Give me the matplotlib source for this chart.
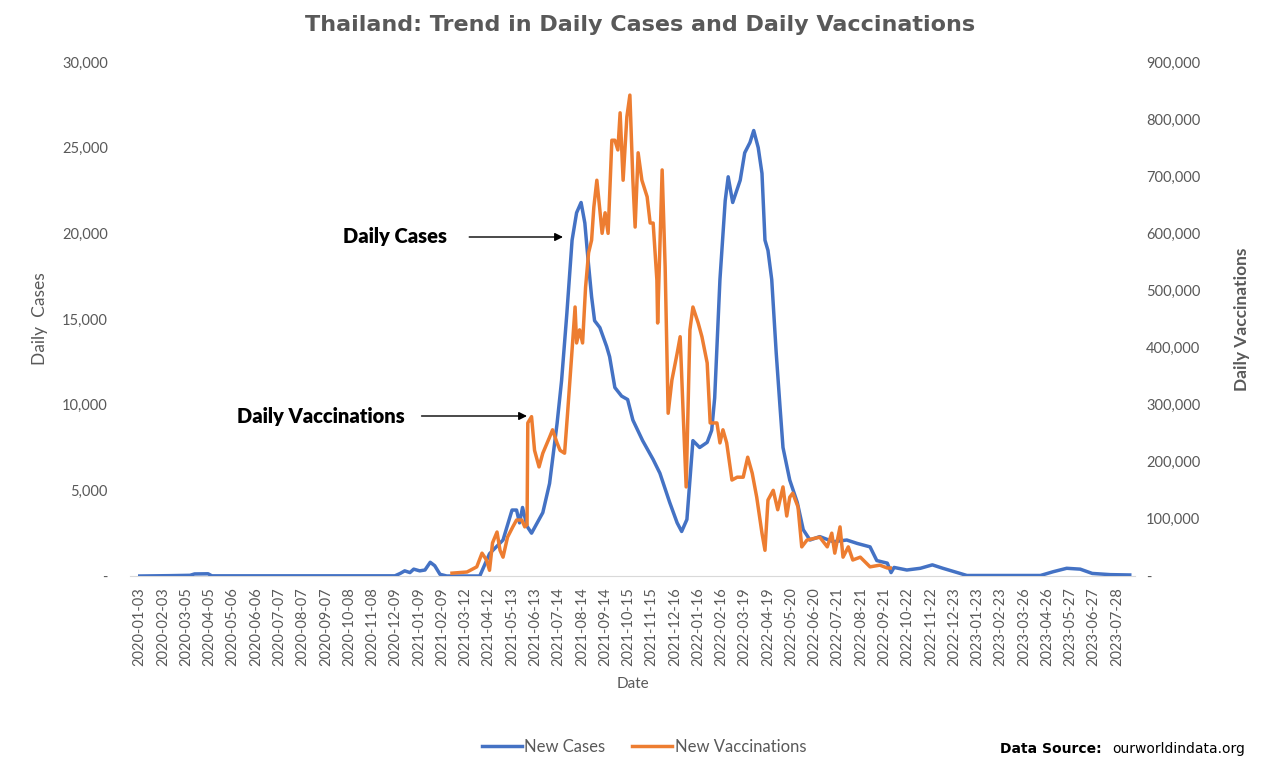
import pandas as pd
import matplotlib.pyplot as plt
from matplotlib.ticker import FuncFormatter, MultipleLocator

plt.rcParams['font.family'] = ['Lato', 'DejaVu Sans']

# ---------------- data ----------------
case_dates = ["2020-01-03", "2020-02-12", "2020-03-10", "2020-03-16", "2020-04-03", "2020-04-08",
              "2020-12-08", "2020-12-15", "2020-12-21", "2020-12-28", "2021-01-02", "2021-01-10",
              "2021-01-17", "2021-01-24", "2021-01-30", "2021-02-06", "2021-02-15", "2021-03-31",
              "2021-04-13", "2021-05-01", "2021-05-13", "2021-05-19", "2021-05-23", "2021-05-27",
              "2021-06-02", "2021-06-08", "2021-06-23", "2021-07-02", "2021-07-12", "2021-07-18",
              "2021-07-25", "2021-08-01", "2021-08-07", "2021-08-13", "2021-08-18", "2021-08-22",
              "2021-08-27", "2021-08-31", "2021-09-07", "2021-09-16", "2021-09-20", "2021-09-27",
              "2021-10-06", "2021-10-14", "2021-10-21", "2021-11-03", "2021-11-17", "2021-11-26",
              "2021-12-09", "2021-12-19", "2021-12-25", "2022-01-01", "2022-01-05", "2022-01-09",
              "2022-01-18", "2022-01-28", "2022-02-03", "2022-02-07", "2022-02-14", "2022-02-21",
              "2022-02-25", "2022-03-03", "2022-03-13", "2022-03-19", "2022-03-26", "2022-03-31",
              "2022-04-06", "2022-04-11", "2022-04-15", "2022-04-19", "2022-04-24", "2022-04-30",
              "2022-05-05", "2022-05-09", "2022-05-18", "2022-05-28", "2022-06-05", "2022-06-14",
              "2022-06-27", "2022-07-15", "2022-08-02", "2022-08-16", "2022-09-02", "2022-09-11",
              "2022-09-25", "2022-09-30", "2022-10-04", "2022-10-21", "2022-11-08", "2022-11-24",
              "2022-12-08", "2022-12-31", "2023-01-09", "2023-04-17", "2023-05-04", "2023-05-22",
              "2023-06-09", "2023-06-25", "2023-07-19", "2023-08-14"]
new_cases = [0, 20, 40, 120, 130, 10,
             10, 150, 300, 200, 400, 300,
             350, 800, 600, 100, 0, 0,
             1300, 2100, 3850, 3850, 3100, 4000,
             2900, 2500, 3700, 5400, 8900, 11400,
             15300, 19600, 21200, 21800, 20600, 18600,
             16300, 14900, 14500, 13400, 12800, 11000,
             10500, 10300, 9100, 7900, 6800, 6000,
             4300, 3100, 2600, 3300, 5600, 7900,
             7500, 7800, 8500, 10400, 17300, 21900,
             23300, 21800, 23100, 24700, 25300, 26000,
             25000, 23500, 19600, 19000, 17300, 13000,
             9900, 7500, 5600, 4300, 2700, 2100,
             2300, 2000, 2100, 1900, 1700, 900,
             750, 200, 500, 350, 450, 650,
             450, 150, 30, 30, 250, 450,
             400, 150, 80, 60]

vacc_dates = ["2021-02-22", "2021-03-14", "2021-03-27", "2021-04-03", "2021-04-09", "2021-04-13",
              "2021-04-17", "2021-04-23", "2021-04-27", "2021-05-01", "2021-05-07", "2021-05-14",
              "2021-05-19", "2021-05-26", "2021-05-30", "2021-06-02", "2021-06-03", "2021-06-08",
              "2021-06-12", "2021-06-18", "2021-06-23", "2021-07-02", "2021-07-06", "2021-07-12",
              "2021-07-16", "2021-07-22", "2021-07-26", "2021-08-01", "2021-08-05", "2021-08-07",
              "2021-08-11", "2021-08-15", "2021-08-19", "2021-08-23", "2021-08-27", "2021-08-30",
              "2021-09-03", "2021-09-07", "2021-09-10", "2021-09-14", "2021-09-18", "2021-09-23",
              "2021-09-27", "2021-10-01", "2021-10-04", "2021-10-08", "2021-10-13", "2021-10-17",
              "2021-10-21", "2021-10-24", "2021-10-28", "2021-11-02", "2021-11-09", "2021-11-13",
              "2021-11-17", "2021-11-22", "2021-11-23", "2021-11-29", "2021-12-03", "2021-12-07",
              "2021-12-12", "2021-12-19", "2021-12-23", "2021-12-27", "2021-12-31", "2022-01-05",
              "2022-01-09", "2022-01-16", "2022-01-21", "2022-01-28", "2022-02-01", "2022-02-10",
              "2022-02-14", "2022-02-18", "2022-02-23", "2022-03-02", "2022-03-09", "2022-03-17",
              "2022-03-23", "2022-03-29", "2022-04-04", "2022-04-11", "2022-04-15", "2022-04-19",
              "2022-04-26", "2022-05-02", "2022-05-09", "2022-05-14", "2022-05-18", "2022-05-22",
              "2022-05-29", "2022-06-03", "2022-06-10", "2022-06-27", "2022-07-07", "2022-07-13",
              "2022-07-17", "2022-07-24", "2022-07-28", "2022-08-04", "2022-08-10", "2022-08-20",
              "2022-09-02", "2022-09-15", "2022-09-25", "2022-09-29"]
new_vaccinations = [5000, 7000, 16000, 40000, 28000, 10000,
                    58000, 77000, 45000, 33000, 68000, 86000,
                    98000, 98000, 86000, 90000, 268000, 279000,
                    220000, 191000, 215000, 243000, 256000, 233000,
                    220000, 215000, 285000, 396000, 471000, 408000,
                    431000, 408000, 506000, 566000, 588000, 646000,
                    693000, 641000, 600000, 636000, 600000, 763000,
                    763000, 746000, 811000, 693000, 804000, 842000,
                    693000, 611000, 741000, 693000, 664000, 618000,
                    618000, 518000, 443000, 711000, 541000, 285000,
                    343000, 390000, 419000, 285000, 156000, 431000,
                    471000, 443000, 419000, 373000, 268000, 268000,
                    233000, 256000, 233000, 168000, 173000, 173000,
                    208000, 180000, 138000, 75000, 45000, 133000,
                    150000, 116000, 156000, 105000, 138000, 145000,
                    121000, 51000, 63000, 68000, 51000, 75000,
                    40000, 86000, 33000, 51000, 28000, 33000,
                    16000, 19000, 14000, 14000]

# category labels, every 31st day
tick_dates = pd.date_range("2020-01-03", "2023-07-28", freq="31D")

BLUE = '#4472C4'
ORANGE = '#ED7D31'
GREY = '#595959'

W, H = 1267, 771
fig = plt.figure(figsize=(W / 100, H / 100), dpi=100)
ax = fig.add_axes([130 / W, 1 - 576 / H, 1005 / W, 514 / H])
ax2 = ax.twinx()

cx = pd.to_datetime(case_dates)
vx = pd.to_datetime(vacc_dates)
l1, = ax.plot(cx, new_cases, color=BLUE, lw=2.5, label='New Cases', zorder=3)
l2, = ax2.plot(vx, new_vaccinations, color=ORANGE, lw=2.5, label='New Vaccinations', zorder=2)

start = pd.Timestamp("2020-01-03")
ax.set_xlim(start - pd.Timedelta(days=13), start + pd.Timedelta(days=1326))
ax.set_ylim(0, 30000)
ax2.set_ylim(0, 900000)
ax.yaxis.set_major_locator(MultipleLocator(5000))
ax2.yaxis.set_major_locator(MultipleLocator(100000))


def fmt(v, pos):
    return '-' if v == 0 else f'{v:,.0f}'


ax.yaxis.set_major_formatter(FuncFormatter(fmt))
ax2.yaxis.set_major_formatter(FuncFormatter(fmt))

ax.set_xticks(tick_dates)
ax.set_xticklabels([d.strftime('%Y-%m-%d') for d in tick_dates], rotation=90)

for a in (ax, ax2):
    for s in a.spines.values():
        s.set_visible(False)
    a.tick_params(length=0, colors=GREY, labelsize=10.5)
ax.spines['bottom'].set_visible(True)
ax.spines['bottom'].set_color('#D9D9D9')
ax.tick_params(axis='y', pad=16)
ax2.tick_params(axis='y', pad=8)
ax.tick_params(axis='x', pad=8)

ax.set_xlabel('Date', color=GREY, fontsize=11, labelpad=8)
ax.set_ylabel('Daily  Cases', color=GREY, fontsize=12.5, labelpad=10)
ax2.set_ylabel('Daily Vaccinations', color=GREY, fontsize=12.5, fontweight='bold', labelpad=24)

fig.text(640 / W, 1 - 25 / H, 'Thailand: Trend in Daily Cases and Daily Vaccinations',
         ha='center', va='center', fontsize=16, fontweight='bold', color=GREY,
         family='DejaVu Sans')

# annotations
ax.annotate('Daily Cases', xy=((563 - 130) / 1005, (576 - 237) / 514), xycoords='axes fraction',
            xytext=((395 - 130) / 1005, (576 - 237) / 514), textcoords='axes fraction',
            ha='center', va='center', fontsize=14.5, fontweight='heavy', color='black',
            arrowprops=dict(arrowstyle='-|>', color='black', lw=1, shrinkA=14, shrinkB=0,
                            mutation_scale=12), zorder=5)
ax.annotate('Daily Vaccinations', xy=((527 - 130) / 1005, (576 - 416) / 514), xycoords='axes fraction',
            xytext=((321 - 130) / 1005, (576 - 416) / 514), textcoords='axes fraction',
            ha='center', va='center', fontsize=14.5, fontweight='heavy', color='black',
            arrowprops=dict(arrowstyle='-|>', color='black', lw=1, shrinkA=10, shrinkB=0,
                            mutation_scale=12), zorder=5)

leg = fig.legend(handles=[l1, l2], loc='center', bbox_to_anchor=(644 / W, 1 - 747 / H), ncol=2,
                 frameon=False, fontsize=12, handlelength=2.4, columnspacing=1.6, handletextpad=0.15)
for t in leg.get_texts():
    t.set_color(GREY)

fig.text(1000 / W, 1 - 749 / H, 'Data Source:', ha='left', va='center', fontsize=10,
         fontweight='bold', color='black', family='DejaVu Sans')
fig.text(1245 / W, 1 - 749 / H, 'ourworldindata.org', ha='right', va='center', fontsize=10,
         color='black', family='DejaVu Sans')

fig.savefig('out.png', dpi=100)
